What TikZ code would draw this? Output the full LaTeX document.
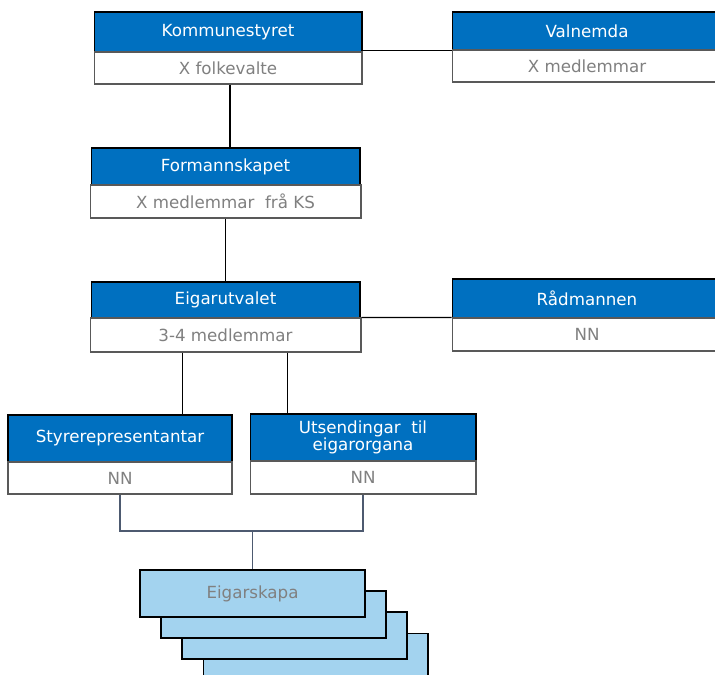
\documentclass[tikz,border=0pt]{standalone}
\usepackage{fontspec}
\setmainfont{DejaVu Sans}
\definecolor{headblue}{HTML}{0070C0}
\definecolor{cardblue}{HTML}{A3D3EF}
\definecolor{textgrey}{HTML}{808080}
\definecolor{linkgrey}{HTML}{4D5A70}
\begin{document}
\begin{tikzpicture}[x=0.02cm,y=-0.02cm,line width=0.6pt,
  head/.style={draw=black,fill=headblue,text=white,inner sep=0pt,align=center,font=\fontsize{9.5}{11}\selectfont},
  sub/.style={draw=black!65,fill=white,text=textgrey,inner sep=0pt,font=\fontsize{9.5}{11}\selectfont},
  card/.style={draw=black,fill=cardblue,text=textgrey,inner sep=0pt,minimum width=4.5cm,minimum height=0.94cm,font=\fontsize{9.5}{11}\selectfont}]
\clip (0,0) rectangle (715,674);
% top row
\node[head,minimum width=5.36cm,minimum height=0.8cm] (khead) at (228,32) {Kommunestyret};
\node[sub,minimum width=5.36cm,minimum height=0.64cm] (ksub) at (228,68) {X folkevalte};
\node[head,minimum width=5.4cm,minimum height=0.76cm] (vhead) at (587,31) {Valnemda};
\node[sub,minimum width=5.4cm,minimum height=0.64cm] (vsub) at (587,66) {X medlemmar};
% formannskapet
\node[head,minimum width=5.38cm,minimum height=0.74cm] (fhead) at (225.5,166.5) {Formannskapet};
\node[sub,minimum width=5.42cm,minimum height=0.66cm] (fsub) at (225.5,201.5) {X medlemmar~ frå KS};
% eigarutvalet og rådmannen
\node[head,minimum width=5.38cm,minimum height=0.72cm] (ehead) at (225.5,300) {Eigarutvalet};
\node[sub,minimum width=5.42cm,minimum height=0.68cm] (esub) at (225.5,335) {3-4 medlemmar};
\node[head,minimum width=5.4cm,minimum height=0.78cm] (rhead) at (587,298.5) {Rådmannen};
\node[sub,minimum width=5.4cm,minimum height=0.66cm] (rsub) at (587,334.5) {NN};
% representantar
\node[head,minimum width=4.48cm,minimum height=0.94cm] (shead) at (120,438.5) {Styrerepresentantar};
\node[sub,minimum width=4.48cm,minimum height=0.64cm] (ssub) at (120,478) {NN};
\node[head,minimum width=4.52cm,minimum height=0.94cm] (uhead) at (363,437.5) {Utsendingar~ til\\[-1pt]eigarorgana};
\node[sub,minimum width=4.52cm,minimum height=0.66cm] (usub) at (363,477.5) {NN};
% eigarskapa, back to front
\foreach \i in {3,2,1}
\node[card] (eig\i) at ({252.5+21*\i},{593.5+21*\i}) {};
\node[card] (eig0) at (252.5,593.5) {Eigarskapa};
% lines
\draw (ksub.south) ++(2,0) coordinate (k1) -- (k1 |- fhead.north);
\draw (vhead.south west) -- (vhead.south west -| khead.east);
\draw (fsub.south) -- (ehead.north);
\draw (esub.north east) -- (rsub.north west);
\draw (esub.south west) ++(93,0) coordinate (s1) -- (s1 |- shead.north);
\draw (esub.south west) ++(198,0) coordinate (s2) -- (s2 |- uhead.north);
\coordinate (join) at (252.5,531);
\draw[linkgrey] (ssub.south) |- (join) -| (usub.south);
\draw[linkgrey] (join) -- (eig0.north);
\end{tikzpicture}
\end{document}
